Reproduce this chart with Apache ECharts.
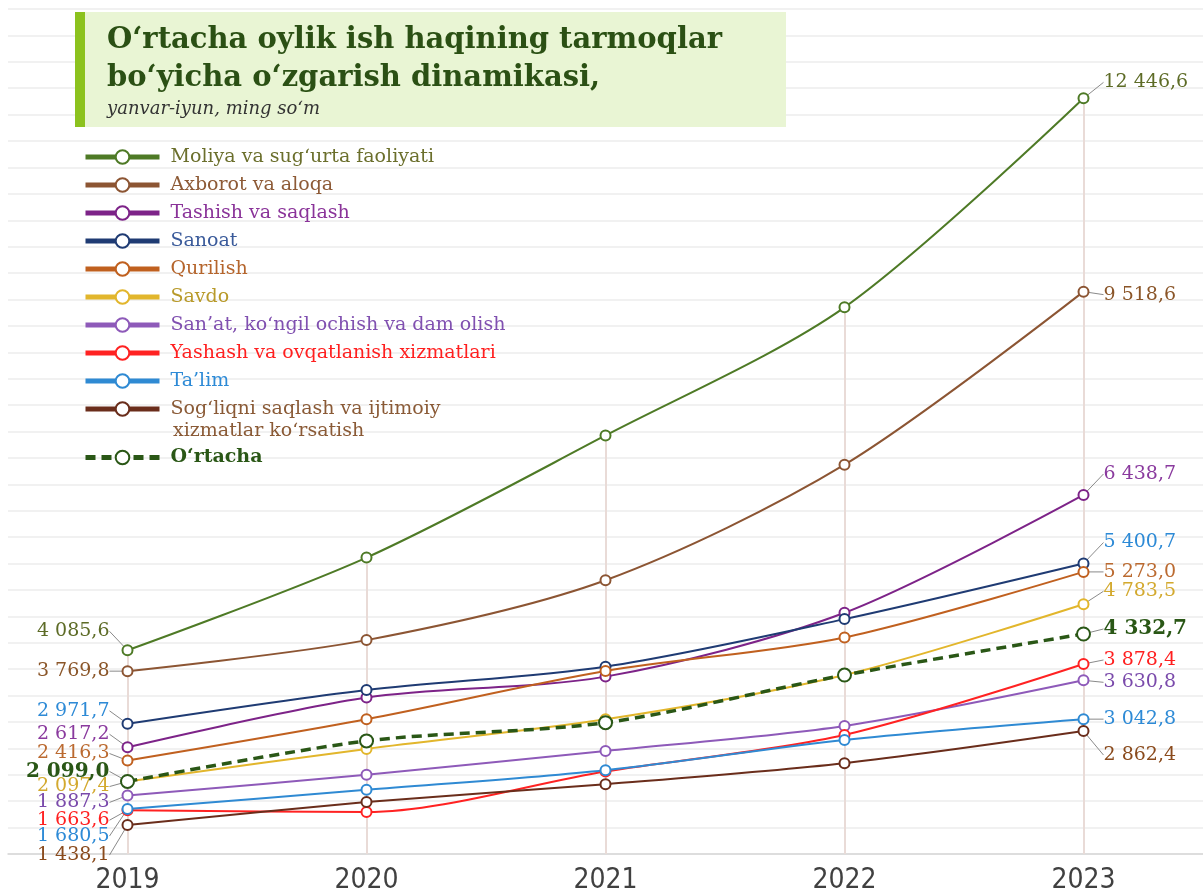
<!DOCTYPE html>
<html>
<head>
<meta charset="utf-8">
<script src="https://cdn.jsdelivr.net/npm/echarts@6/dist/echarts.min.js"></script>
<style>
html,body{margin:0;padding:0;background:#fff}
#chart{width:1203px;height:895px}
</style>
</head>
<body>
<div id="chart"></div>
<script>
// yillar
var years = ['2019', '2020', '2021', '2022', '2023'];

// tarmoqlar bo'yicha o'rtacha oylik ish haqi, ming so'm
var moliya   = [4085.6, 5490, 7340, 9281, 12446.6];
var axborot  = [3769.8, 4240, 5147, 6897, 9518.6];
var tashish  = [2617.2, 3369, 3687, 4654, 6438.7];
var sanoat   = [2971.7, 3484, 3838, 4558, 5400.7];
var qurilish = [2416.3, 3041, 3771, 4281, 5273.0];
var savdo    = [2097.4, 2592, 3040, 3711, 4783.5];
var sanat    = [1887.3, 2199, 2562, 2940, 3630.8];
var yashash  = [1663.6, 1635, 2250, 2804, 3878.4];
var talim    = [1680.5, 1972, 2270, 2728, 3042.8];
var sogliq   = [1438.1, 1786, 2058, 2376, 2862.4];
var ortacha  = [2099.0, 2713, 2990, 3711, 4332.7];

var names = [
  'Moliya va sug‘urta faoliyati',
  'Axborot va aloqa',
  'Tashish va saqlash',
  'Sanoat',
  'Qurilish',
  'Savdo',
  'San’at, ko‘ngil ochish va dam olish',
  'Yashash va ovqatlanish xizmatlari',
  'Ta’lim',
  'Sog‘liqni saqlash va ijtimoiy xizmatlar ko‘rsatish',
  'O‘rtacha'
];
var values = [moliya, axborot, tashish, sanoat, qurilish, savdo, sanat, yashash, talim, sogliq, ortacha];

// ranglar: chiziq, yorliq, legend matni
var lineColors  = ['#4e7a26', '#8c5533', '#7d2388', '#1f3b73', '#c0601f', '#e2b62c', '#8e5ab9', '#ff2222', '#2f8ad3', '#6a2d1b', '#2a5716'];
var labelColors = ['#5d6b26', '#8a5528', '#8a3a9e', '#2d8ad6', '#bb6a30', '#d3a92e', '#7a4aab', '#ff1f1f', '#2d8ad6', '#8a4a1c', '#2a5716'];
var legendColors= ['#6b6f2c', '#8d5a36', '#8a3399', '#3a5a9a', '#b5652c', '#b89a2a', '#8050b0', '#ff1f1f', '#2d8ad6', '#8a5a36', '#2a5716'];

// yorliqlarni surish (px)
var leftDy  = [-19, 0, -13, -13, -7, 5, 7, 10, 27, 30, -10];
var rightDy = [-16, 3, -21, -21, 0, -13, 2, -4, 0, 24, -5];

var yMin = 1000;

function fmt(v) {
  return v.toFixed(1).replace('.', ',').replace(/\B(?=(\d{3})+(?!\d))/g, ' ');
}

var serif = 'DejaVu Serif';

var series = [];
for (var i = 0; i < values.length; i++) {
  var avg = (i === values.length - 1);
  var last = years.length - 1;
  var s = {
    name: names[i],
    type: 'line',
    data: values[i].map(function (v, j) {
      var edge = (j === 0 || j === last);
      return { value: v, label: { show: edge }, labelLine: { show: edge } };
    }),
    smooth: 0.3,
    symbol: 'emptyCircle',
    symbolSize: avg ? 13 : 10,
    z: avg ? 4 : 3,
    lineStyle: { color: lineColors[i], width: avg ? 3.5 : 2, type: avg ? [10, 6] : 'solid' },
    itemStyle: { color: lineColors[i], borderColor: lineColors[i], borderWidth: avg ? 7 : 3.5 },
    label: {
      show: true,
      fontFamily: serif,
      fontSize: avg ? 20 : 19,
      fontWeight: avg ? 'bold' : 'normal',
      color: labelColors[i],
      formatter: function (p) { return fmt(p.value); }
    },
    labelLine: { show: true, lineStyle: { color: '#8a8a8a', width: 1 } },
    labelLayout: (function (k) {
      return function (p) {
        var cx = p.rect.x + p.rect.width / 2;
        var cy = p.rect.y + p.rect.height / 2;
        if (p.dataIndex === 0) {
          return { x: cx - 18, y: cy + leftDy[k], align: 'right', verticalAlign: 'middle' };
        }
        return { x: cx + 20, y: cy + rightDy[k], align: 'left', verticalAlign: 'middle' };
      };
    })(i)
  };
  if (i === 0) {
    s.markLine = {
      silent: true,
      symbol: 'none',
      z: 1,
      label: { show: false },
      lineStyle: { color: '#e9dbd7', width: 2, type: 'solid' },
      data: years.map(function (y, j) {
        return [{ coord: [y, moliya[j]] }, { coord: [y, yMin] }];
      })
    };
  }
  series.push(s);
}

var chart = echarts.init(document.getElementById('chart'));
chart.setOption({
  backgroundColor: '#ffffff',
  animation: false,
  graphic: [
    { type: 'rect', z: 3, shape: { x: 75, y: 12, width: 711, height: 115 }, style: { fill: '#e9f5d4' } },
    { type: 'rect', z: 3, shape: { x: 75, y: 12, width: 10, height: 115 }, style: { fill: '#8cc21e' } },
    {
      type: 'text', z: 4, left: 173, top: 422,
      style: { text: 'xizmatlar ko‘rsatish', font: '19px "DejaVu Serif"', fill: legendColors[9] }
    }
  ],
  title: {
    text: 'O‘rtacha oylik ish haqining tarmoqlar\nbo‘yicha o‘zgarish dinamikasi,',
    subtext: 'yanvar-iyun, ming so‘m',
    left: 102,
    top: 16,
    itemGap: 0,
    textStyle: { fontFamily: serif, fontWeight: 'bold', fontSize: 29, lineHeight: 38, color: '#2b5014' },
    subtextStyle: { fontFamily: serif, fontStyle: 'italic', fontSize: 18, lineHeight: 24, color: '#333333', padding: [0, 0, 0, 5] }
  },
  legend: [
    {
      orient: 'vertical',
      left: 78,
      top: 142,
      itemWidth: 74,
      itemHeight: 17,
      itemGap: 8,
      lineStyle: { width: 5 },
      itemStyle: { borderWidth: 3 },
      textStyle: { fontFamily: serif, fontSize: 19, lineHeight: 20, padding: [0, 0, 0, 6] },
      data: names.slice(0, 10).map(function (n, k) {
        return { name: n, textStyle: { color: legendColors[k] } };
      }),
      formatter: function (n) {
        return n === names[9] ? 'Sog‘liqni saqlash va ijtimoiy' : n;
      }
    },
    {
      orient: 'vertical',
      left: 78,
      top: 443,
      itemWidth: 74,
      itemHeight: 17,
      lineStyle: { width: 5 },
      itemStyle: { borderWidth: 3 },
      textStyle: { fontFamily: serif, fontSize: 19, fontWeight: 'bold', color: legendColors[10], padding: [0, 0, 0, 6] },
      data: [names[10]]
    }
  ],
  grid: { left: 8, right: 0, top: 9, bottom: 39 },
  xAxis: {
    type: 'category',
    data: years,
    boundaryGap: true,
    axisLine: { lineStyle: { color: '#d6d6d6', width: 1.5 } },
    axisTick: { show: false },
    axisLabel: {
      fontFamily: "'Liberation Sans Narrow', 'DejaVu Sans Condensed', 'Liberation Sans', sans-serif",
      fontSize: 28, color: '#404040', margin: 13
    },
    splitLine: { show: false }
  },
  yAxis: {
    type: 'value',
    min: yMin,
    max: 13800,
    interval: 400,
    axisLabel: { show: false },
    axisLine: { show: false },
    axisTick: { show: false },
    splitLine: { lineStyle: { color: '#ececec', width: 1.5 } }
  },
  series: series
});
</script>
</body>
</html>
